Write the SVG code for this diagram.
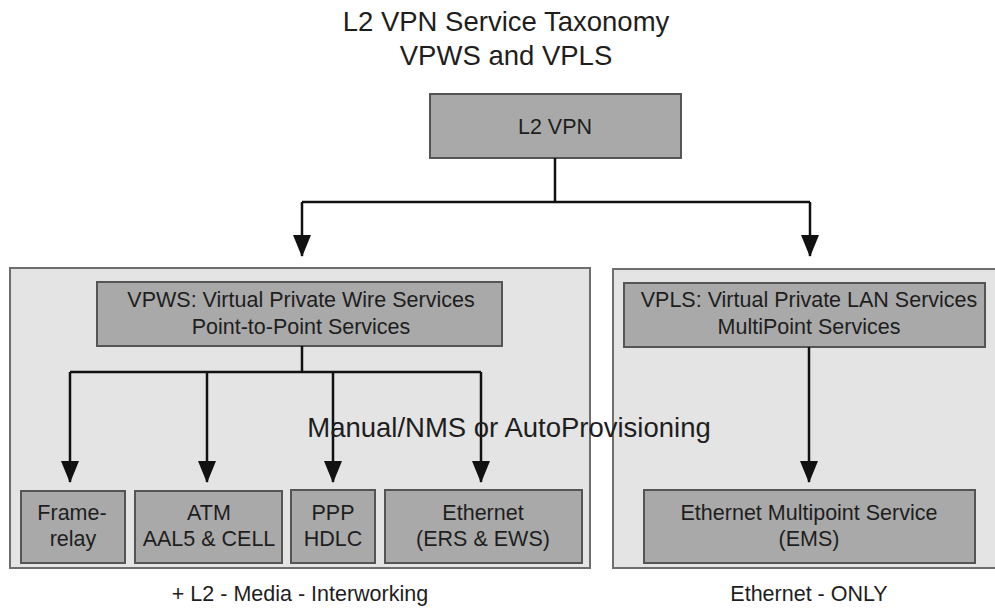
<svg xmlns="http://www.w3.org/2000/svg" width="995" height="609" viewBox="0 0 995 609">
<style>
text{font-family:"Liberation Sans",Arial,sans-serif;fill:#1e1e1e;text-anchor:middle}
.cont{fill:#e4e4e4;stroke:#6e6e6e;stroke-width:2}
.box{fill:#a9a9a9;stroke:#555;stroke-width:2}
.lbl{font-size:21.5px}
.conn{fill:none;stroke:#111;stroke-width:2.5}
</style>
<defs>
<marker id="ah" markerUnits="userSpaceOnUse" markerWidth="22" markerHeight="18" refX="21" refY="9" orient="auto" viewBox="0 0 22 18">
<path d="M0,0 L22,9 L0,18 Z" fill="#111"/>
</marker>
</defs>
<rect width="995" height="609" fill="#fff"/>
<g id="title">
<text x="506" y="31" font-size="27.5">L2 VPN Service Taxonomy</text>
<text x="506" y="65" font-size="27.5">VPWS and VPLS</text>
</g>
<g id="vpws-area"><rect class="cont" x="10" y="268" width="580" height="300"/></g>
<g id="vpls-area"><rect class="cont" x="613" y="269" width="390" height="299"/></g>
<g id="l2vpn"><rect class="box" x="430" y="94" width="251" height="64"/><text class="lbl" x="555" y="134">L2 VPN</text></g>
<g id="vpws"><rect class="box" x="97" y="282" width="405" height="64"/><text class="lbl" x="301" y="307">VPWS: Virtual Private Wire Services</text><text class="lbl" x="301" y="334">Point-to-Point Services</text></g>
<g id="vpls"><rect class="box" x="624" y="283" width="361" height="64"/><text class="lbl" x="809" y="307">VPLS: Virtual Private LAN Services</text><text class="lbl" x="809" y="334">MultiPoint Services</text></g>
<g id="frame"><rect class="box" x="21" y="491" width="104" height="72"/><text class="lbl" x="72" y="520">Frame-</text><text class="lbl" x="73" y="546">relay</text></g>
<g id="atm"><rect class="box" x="135" y="491" width="147" height="72"/><text class="lbl" x="209" y="520">ATM</text><text class="lbl" x="209" y="546">AAL5 &amp; CELL</text></g>
<g id="ppp"><rect class="box" x="291" y="490" width="84" height="73"/><text class="lbl" x="333" y="520">PPP</text><text class="lbl" x="333" y="546">HDLC</text></g>
<g id="eth"><rect class="box" x="385" y="490" width="197" height="73"/><text class="lbl" x="483" y="520">Ethernet</text><text class="lbl" x="483" y="546">(ERS &amp; EWS)</text></g>
<g id="ems"><rect class="box" x="644" y="490" width="331" height="73"/><text class="lbl" x="809" y="520">Ethernet Multipoint Service</text><text class="lbl" x="809" y="546">(EMS)</text></g>
<g id="connectors">
<path class="conn" d="M555,158 V202 M302,202 H810"/>
<path class="conn" d="M302,202 V256" marker-end="url(#ah)"/>
<path class="conn" d="M810,202 V256" marker-end="url(#ah)"/>
<path class="conn" d="M302,346 V372 M70,372 H481"/>
<path class="conn" d="M70,372 V482" marker-end="url(#ah)"/>
<path class="conn" d="M207,372 V482" marker-end="url(#ah)"/>
<path class="conn" d="M333,372 V482" marker-end="url(#ah)"/>
<path class="conn" d="M481,372 V482" marker-end="url(#ah)"/>
<path class="conn" d="M809,347 V482" marker-end="url(#ah)"/>
</g>
<g id="notes">
<text x="509" y="437" font-size="27.5">Manual/NMS or AutoProvisioning</text>
<text x="300" y="601" font-size="21.5">+ L2 - Media - Interworking</text>
<text x="809" y="601" font-size="21.5">Ethernet - ONLY</text>
</g>
</svg>
